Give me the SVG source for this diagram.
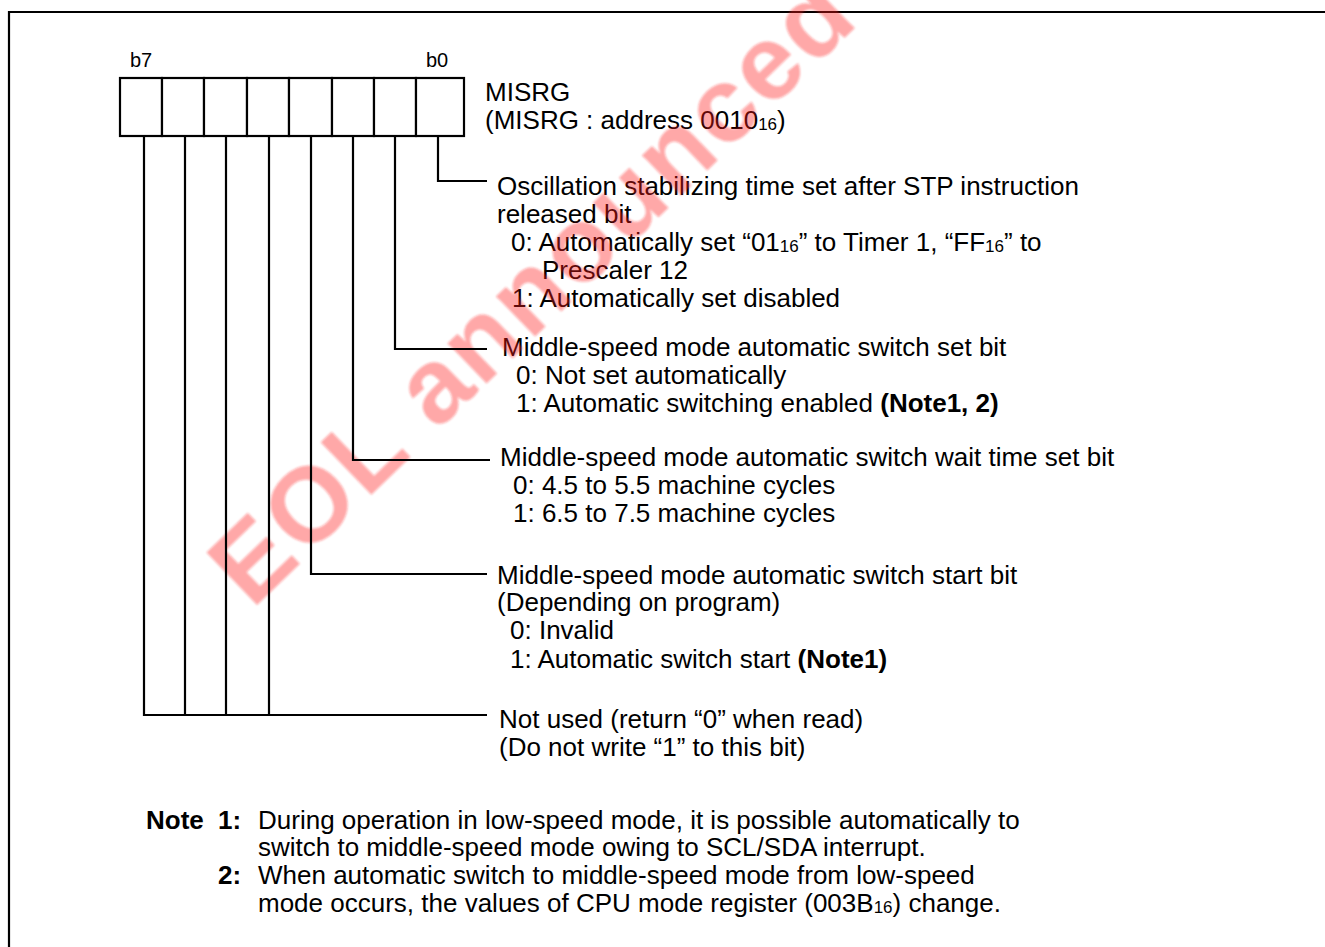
<svg xmlns="http://www.w3.org/2000/svg" width="1325" height="947" viewBox="0 0 1325 947">
<style>
.t{font-family:"Liberation Sans",Arial,Helvetica,sans-serif;font-size:26px;fill:#000}
.sm{font-size:20px}
.b{font-weight:bold}
.sub{font-size:17px}
.ln{stroke:#000;stroke-width:2.2;fill:none}
.cell{stroke:#000;stroke-width:2.2;fill:#fff}
.wm{font-family:"Liberation Sans",Arial,Helvetica,sans-serif;font-weight:bold;font-size:106px;fill:#ff2020;fill-opacity:0.38}
</style>
<defs>
<filter id="soft" x="-5%" y="-5%" width="110%" height="110%"><feGaussianBlur stdDeviation="1.2"/></filter>
</defs>
<rect width="1325" height="947" fill="#fff"/>
<g id="frame"><path class="ln" d="M9,947 V12 H1325"/></g>

<g id="register">
<rect class="cell" x="120" y="78" width="42" height="58"/>
<rect class="cell" x="162" y="78" width="42" height="58"/>
<rect class="cell" x="204" y="78" width="43" height="58"/>
<rect class="cell" x="247" y="78" width="42" height="58"/>
<rect class="cell" x="289" y="78" width="43" height="58"/>
<rect class="cell" x="332" y="78" width="42" height="58"/>
<rect class="cell" x="374" y="78" width="42" height="58"/>
<rect class="cell" x="416" y="78" width="48" height="58"/>
<text class="t sm" x="130" y="67">b7</text>
<text class="t sm" x="426" y="67">b0</text>
<text class="t" x="485" y="101">MISRG</text>
<text class="t" x="485" y="129">(MISRG : address 0010<tspan class="sub" dy="1">16</tspan><tspan dy="-1">)</tspan></text>
</g>

<g id="field-b0">
<text class="t" x="497" y="195">Oscillation stabilizing time set after STP instruction</text>
<text class="t" x="497" y="223">released bit</text>
<text class="t" x="511" y="251">0: Automatically set “01<tspan class="sub" dy="1">16</tspan><tspan dy="-1">” to Timer 1, “FF</tspan><tspan class="sub" dy="1">16</tspan><tspan dy="-1">” to</tspan></text>
<text class="t" x="542" y="279">Prescaler 12</text>
<text class="t" x="512" y="307">1: Automatically set disabled</text>
</g>

<g id="field-b1">
<text class="t" x="502" y="356">Middle-speed mode automatic switch set bit</text>
<text class="t" x="516" y="384">0: Not set automatically</text>
<text class="t" x="516" y="412">1: Automatic switching enabled <tspan class="b">(Note1, 2)</tspan></text>
</g>

<g id="field-b2">
<text class="t" x="500" y="466">Middle-speed mode automatic switch wait time set bit</text>
<text class="t" x="513" y="494">0: 4.5 to 5.5 machine cycles</text>
<text class="t" x="513" y="522">1: 6.5 to 7.5 machine cycles</text>
</g>

<g id="field-b3">
<text class="t" x="497" y="584">Middle-speed mode automatic switch start bit</text>
<text class="t" x="497" y="611">(Depending on program)</text>
<text class="t" x="510" y="639">0: Invalid</text>
<text class="t" x="510" y="668">1: Automatic switch start <tspan class="b">(Note1)</tspan></text>
</g>

<g id="field-b4-b7">
<text class="t" x="499" y="728">Not used (return “0” when read)</text>
<text class="t" x="499" y="756">(Do not write “1” to this bit)</text>
</g>

<g id="notes">
<text class="t b" x="146" y="829">Note</text>
<text class="t b" x="218" y="829">1:</text>
<text class="t" x="258" y="829">During operation in low-speed mode, it is possible automatically to</text>
<text class="t" x="258" y="856">switch to middle-speed mode owing to SCL/SDA interrupt.</text>
<text class="t b" x="218" y="884">2:</text>
<text class="t" x="258" y="884">When automatic switch to middle-speed mode from low-speed</text>
<text class="t" x="258" y="912">mode occurs, the values of CPU mode register (003B<tspan class="sub" dy="1">16</tspan><tspan dy="-1">) change.</tspan></text>
</g>

<g id="watermark" filter="url(#soft)">
<text class="wm" transform="translate(252,610) rotate(-44)" textLength="845" lengthAdjust="spacing">EOL announced</text>
</g>

<g id="connectors">
<path class="ln" d="M438,136 V181 H487"/>
<path class="ln" d="M395,136 V349 H487"/>
<path class="ln" d="M353,136 V460 H490"/>
<path class="ln" d="M311,136 V574 H487"/>
<path class="ln" d="M269,136 V715"/>
<path class="ln" d="M226,136 V715"/>
<path class="ln" d="M185,136 V715"/>
<path class="ln" d="M144,136 V715 H487"/>
</g>
</svg>
